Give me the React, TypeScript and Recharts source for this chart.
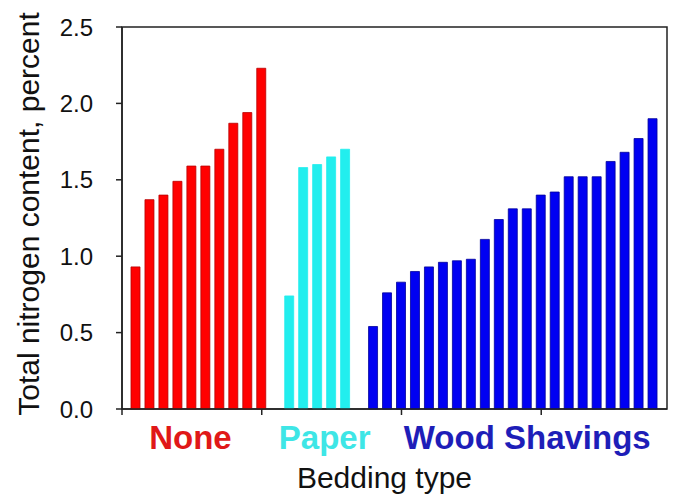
import React from "react";
import { BarChart, Bar, Cell, XAxis, YAxis, ReferenceArea } from "recharts";

// bedding groups, values (total N, %)
const groups = ["None", "Paper", "Wood Shavings"];
const noneValues = [0.93, 1.37, 1.4, 1.49, 1.59, 1.59, 1.7, 1.87, 1.94, 2.23];
const paperValues = [0.74, 1.58, 1.6, 1.65, 1.7];
const woodValues = [
  0.54, 0.76, 0.83, 0.9, 0.93, 0.96, 0.97, 0.98, 1.11, 1.24, 1.31, 1.31, 1.4,
  1.42, 1.52, 1.52, 1.52, 1.62, 1.68, 1.77, 1.9,
];
// first bar slot of each group on the x scale (one empty slot between groups)
const groupStart = [1, 12, 18];
const groupLabelAt = [4.9, 14.5, 29];
const xTicks = [0, 10, 20, 30];
const yTicks = [0, 0.5, 1.0, 1.5, 2.0, 2.5];

const fills = ["#FF0000", "#22EEEE", "#0000F2"];
const strokes = ["#B80000", "#22EEEE", "#00009A"];
const labelColors = ["#E01818", "#3EE6E6", "#1E1EB8"];

const FONT = '"Liberation Sans", Arial, sans-serif';

const rows = [noneValues, paperValues, woodValues].flatMap((vals, g) =>
  vals.map((v, i) => ({ x: groupStart[g] + i, value: v, group: g }))
);

const GroupTick = ({ x, y, payload }: any) => {
  const idx = groupLabelAt.indexOf(payload.value);
  return (
    <text
      x={x}
      y={y}
      dy={32}
      textAnchor="middle"
      fontFamily={FONT}
      fontSize={33}
      fontWeight="bold"
      fill={labelColors[idx]}
    >
      {groups[idx]}
    </text>
  );
};

const BeddingLabel = ({ viewBox }: any) => (
  <text
    x={viewBox.x + viewBox.width / 2 - 10}
    y={viewBox.y + 71}
    textAnchor="middle"
    fontFamily={FONT}
    fontSize={30}
    fill="#111"
  >
    Bedding type
  </text>
);

const YLabel = ({ viewBox }: any) => {
  const cx = viewBox.x + 39;
  const cy = viewBox.y + viewBox.height / 2 - 4;
  return (
    <text
      x={cx}
      y={cy}
      textAnchor="middle"
      transform={`rotate(-90, ${cx}, ${cy})`}
      fontFamily={FONT}
      fontSize={30}
      fill="#111"
    >
      Total nitrogen content, percent
    </text>
  );
};

export default function App() {
  return (
    <div style={{ position: "absolute", left: 0, top: 0, background: "#fff" }}>
      <BarChart
        width={674}
        height={495}
        data={rows}
        margin={{ top: 27, right: 7, bottom: 0, left: 0 }}
      >
        <XAxis
          dataKey="x"
          type="number"
          domain={[0, 39]}
          ticks={xTicks}
          tickFormatter={() => ""}
          height={8}
          tickSize={6}
          stroke="#222"
          strokeWidth={1.5}
        />
        <XAxis
          xAxisId="grp"
          dataKey="x"
          type="number"
          domain={[0, 39]}
          ticks={groupLabelAt}
          axisLine={false}
          tickLine={false}
          tickSize={0}
          tickMargin={0}
          height={78}
          tick={<GroupTick />}
          interval={0}
          label={<BeddingLabel />}
        />
        <YAxis
          type="number"
          domain={[0, 2.5]}
          ticks={yTicks}
          width={122}
          tickSize={6}
          tickMargin={23}
          tickFormatter={(v) => v.toFixed(1)}
          tick={{ fill: "#111", fontSize: 24, fontFamily: FONT }}
          stroke="#222"
          strokeWidth={1.5}
          label={<YLabel />}
        />
        <ReferenceArea
          x1={0}
          x2={39}
          y1={0}
          y2={2.5}
          fill="none"
          stroke="#222"
          strokeWidth={1.5}
        />
        <Bar dataKey="value" barSize={9} isAnimationActive={false}>
          {rows.map((r, i) => (
            <Cell key={i} fill={fills[r.group]} stroke={strokes[r.group]} strokeWidth={0.8} />
          ))}
        </Bar>
      </BarChart>
    </div>
  );
}
